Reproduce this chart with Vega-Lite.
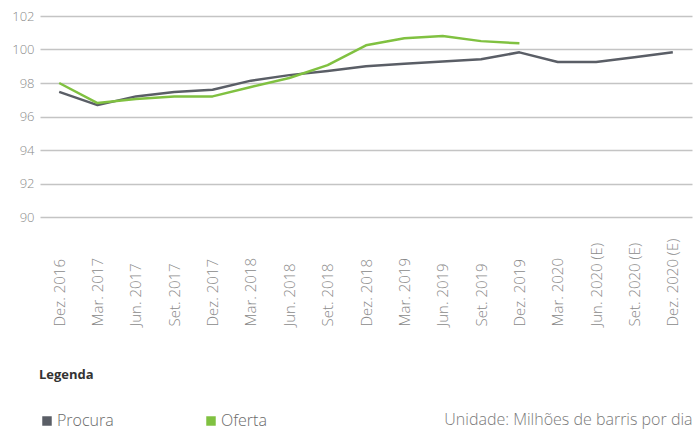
{
  "$schema": "https://vega.github.io/schema/vega-lite/v6.json",
  "autosize": {"type": "none"},
  "padding": {"left": 40, "top": 16, "right": 2, "bottom": 213},
  "width": 652,
  "height": 201,
  "config": {
    "font": "Open Sans",
    "view": {"stroke": null}
  },
  "data": {
    "values": [
      {"periodo": "Dez. 2016", "serie": "Procura", "valor": 97.47},
      {"periodo": "Mar. 2017", "serie": "Procura", "valor": 96.68},
      {"periodo": "Jun. 2017", "serie": "Procura", "valor": 97.2},
      {"periodo": "Set. 2017", "serie": "Procura", "valor": 97.46},
      {"periodo": "Dez. 2017", "serie": "Procura", "valor": 97.6},
      {"periodo": "Mar. 2018", "serie": "Procura", "valor": 98.14},
      {"periodo": "Jun. 2018", "serie": "Procura", "valor": 98.47},
      {"periodo": "Set. 2018", "serie": "Procura", "valor": 98.72},
      {"periodo": "Dez. 2018", "serie": "Procura", "valor": 99.0},
      {"periodo": "Mar. 2019", "serie": "Procura", "valor": 99.15},
      {"periodo": "Jun. 2019", "serie": "Procura", "valor": 99.29},
      {"periodo": "Set. 2019", "serie": "Procura", "valor": 99.42},
      {"periodo": "Dez. 2019", "serie": "Procura", "valor": 99.83},
      {"periodo": "Mar. 2020", "serie": "Procura", "valor": 99.25},
      {"periodo": "Jun. 2020 (E)", "serie": "Procura", "valor": 99.25},
      {"periodo": "Set. 2020 (E)", "serie": "Procura", "valor": 99.54},
      {"periodo": "Dez. 2020 (E)", "serie": "Procura", "valor": 99.83},
      {"periodo": "Dez. 2016", "serie": "Oferta", "valor": 98.0},
      {"periodo": "Mar. 2017", "serie": "Oferta", "valor": 96.8},
      {"periodo": "Jun. 2017", "serie": "Oferta", "valor": 97.05},
      {"periodo": "Set. 2017", "serie": "Oferta", "valor": 97.2},
      {"periodo": "Dez. 2017", "serie": "Oferta", "valor": 97.2},
      {"periodo": "Mar. 2018", "serie": "Oferta", "valor": 97.76},
      {"periodo": "Jun. 2018", "serie": "Oferta", "valor": 98.3},
      {"periodo": "Set. 2018", "serie": "Oferta", "valor": 99.07},
      {"periodo": "Dez. 2018", "serie": "Oferta", "valor": 100.25},
      {"periodo": "Mar. 2019", "serie": "Oferta", "valor": 100.67},
      {"periodo": "Jun. 2019", "serie": "Oferta", "valor": 100.8},
      {"periodo": "Set. 2019", "serie": "Oferta", "valor": 100.5},
      {"periodo": "Dez. 2019", "serie": "Oferta", "valor": 100.37}
    ]
  },
  "mark": {"type": "line", "strokeWidth": 2.5, "strokeJoin": "round"},
  "encoding": {
    "x": {
      "field": "periodo",
      "type": "ordinal",
      "sort": null,
      "scale": {"type": "point", "padding": 0.5},
      "axis": {
        "title": "Unidade: Milhões de barris por dia",
        "titleAnchor": "end",
        "titlePadding": 85,
        "titleFont": "Open Sans",
        "titleFontSize": 16,
        "titleFontWeight": 300,
        "titleColor": "#7a7a7a",
        "domain": false,
        "ticks": false,
        "grid": false,
        "labelAngle": -90,
        "labelAlign": "left",
        "labelBaseline": "middle",
        "labelPadding": 109,
        "labelFontSize": 15,
        "labelFontWeight": 300,
        "labelColor": "#8a8a8a",
        "labelFont": "Open Sans"
      }
    },
    "y": {
      "field": "valor",
      "type": "quantitative",
      "scale": {"domain": [90, 102], "nice": false, "zero": false},
      "axis": {
        "title": null,
        "domain": false,
        "ticks": false,
        "values": [90, 92, 94, 96, 98, 100, 102],
        "labelPadding": 6,
        "labelFontSize": 13,
        "labelFontWeight": 300,
        "labelColor": "#8a8a8a",
        "labelFont": "Open Sans",
        "gridColor": "#c4c4c4",
        "gridWidth": 1.5
      }
    },
    "color": {
      "field": "serie",
      "type": "nominal",
      "scale": {"domain": ["Procura", "Oferta"], "range": ["#5a5e66", "#80c141"]},
      "legend": {
        "title": "Legenda",
        "orient": "none",
        "legendX": -1,
        "legendY": 353,
        "direction": "horizontal",
        "columns": 2,
        "gridAlign": "all",
        "columnPadding": 89,
        "padding": 0,
        "titleFont": "Open Sans",
        "titleFontSize": 13,
        "titleFontWeight": "bold",
        "titleColor": "#333333",
        "titlePadding": 31,
        "labelFont": "Open Sans",
        "labelFontSize": 16,
        "labelFontWeight": 300,
        "labelColor": "#6a6a6a",
        "labelOffset": 2,
        "symbolType": "square",
        "symbolSize": 90,
        "symbolStrokeWidth": 0,
        "encode": {
          "symbols": {
            "update": {
              "fill": {"scale": "color", "field": "value"},
              "stroke": {"value": "transparent"},
              "strokeWidth": {"value": 0}
            }
          }
        }
      }
    },
    "order": {"field": "serie"}
  }
}
